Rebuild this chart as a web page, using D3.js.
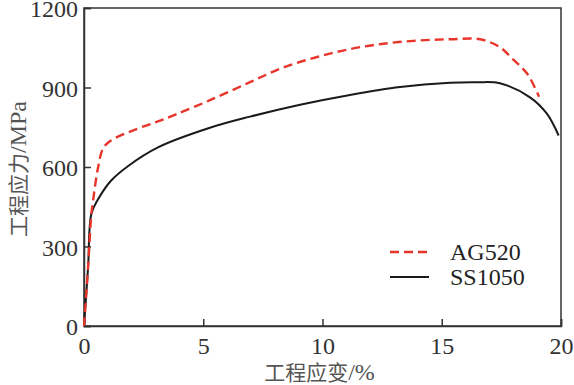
<!DOCTYPE html>
<html>
<head>
<meta charset="utf-8">
<script src="https://cdn.jsdelivr.net/npm/d3@7"></script>
<style>
  body { margin: 0; background: #fff; }
  .tick text { font-family: "Liberation Serif", serif; font-size: 24px; fill: #333; }
  .lbl { font-family: "Noto Sans CJK SC", sans-serif; font-size: 21px; fill: #555; }
  .lbl tspan.lat { font-family: "Liberation Serif", serif; font-size: 24px; }
  .leg { font-family: "Liberation Serif", serif; font-size: 24px; fill: #222; }
</style>
</head>
<body>
<svg id="chart" width="574" height="385"></svg>
<script>
// strain (%) / stress (MPa)
const agStrain = [0, 0.17, 0.31, 0.38, 0.59, 0.8, 1.13, 2.26, 3.1, 3.9, 5.28, 6.96, 8.34, 9.77, 11.15, 12.54, 13.96, 15.35, 16.6, 17.44, 18.0, 18.6, 19.08]
const agStress = [0, 220, 424, 473, 598, 670, 700, 745, 772, 800, 852, 920, 975, 1015, 1045, 1065, 1077, 1082, 1082, 1052, 1005, 950, 865]
const ssStrain = [0, 0.17, 0.31, 0.59, 1.13, 1.84, 3.1, 5.28, 6.96, 9.06, 11.15, 13.25, 15.35, 16.5, 17.44, 18.7, 19.4, 19.9]
const ssStress = [0, 220, 424, 478, 548, 603, 674, 748, 790, 835, 872, 902, 918, 920, 916, 863, 802, 719]

const xTicks = [0, 5, 10, 15, 20]
const yTicks = [0, 300, 600, 900, 1200]
const seriesNames = ["AG520", "SS1050"]

const M = { left: 84, right: 13, top: 8, bottom: 59 }
const W = 574, H = 385
const svg = d3.select("#chart")

const x = d3.scaleLinear().domain([0, 20]).range([M.left, W - M.right])
const y = d3.scaleLinear().domain([0, 1200]).range([H - M.bottom, M.top])

const axisColor = "#333"

// frame
svg.append("rect")
  .attr("x", x(0)).attr("y", y(1200))
  .attr("width", x(20) - x(0)).attr("height", y(0) - y(1200))
  .attr("fill", "none").attr("stroke", axisColor).attr("stroke-width", 1.5)

const gx = svg.append("g")
  .attr("transform", `translate(0,${y(0)})`)
  .call(d3.axisBottom(x).tickValues(xTicks).tickFormat(d3.format("d")).tickSize(-7).tickPadding(11))
const gy = svg.append("g")
  .attr("transform", `translate(${x(0)},0)`)
  .call(d3.axisLeft(y).tickValues(yTicks).tickFormat(d3.format("d")).tickSize(-7).tickPadding(6))

;[gx, gy].forEach(g => {
  g.attr("font-family", null).attr("font-size", null)
  g.select(".domain").attr("stroke", axisColor).attr("stroke-width", 1.5)
  g.selectAll(".tick line").attr("stroke", axisColor).attr("stroke-width", 1.5)
})
gy.selectAll(".tick text").attr("dy", "0.36em")

const line = d3.line().x(d => x(d[0])).y(d => y(d[1])).curve(d3.curveCatmullRom.alpha(0.5))

const agData = agStrain.map((s, i) => [s, agStress[i]])
const ssData = ssStrain.map((s, i) => [s, ssStress[i]])

svg.append("path").datum(ssData)
  .attr("d", line).attr("fill", "none")
  .attr("stroke", "#1a1a1a").attr("stroke-width", 2)

svg.append("path").datum(agData)
  .attr("d", line).attr("fill", "none")
  .attr("stroke", "#e8352b").attr("stroke-width", 2.4)
  .attr("stroke-dasharray", "9,5")

// legend
const leg = svg.append("g").attr("transform", "translate(390,252)")
const legStyle = [
  { color: "#e8352b", dash: "9,5", w: 2.4 },
  { color: "#1a1a1a", dash: null, w: 2 }
]
seriesNames.forEach((name, i) => {
  const row = leg.append("g").attr("transform", `translate(0,${i * 25})`)
  row.append("line").attr("x1", 0).attr("x2", 39).attr("y1", 0).attr("y2", 0)
    .attr("stroke", legStyle[i].color).attr("stroke-width", legStyle[i].w)
    .attr("stroke-dasharray", legStyle[i].dash)
  row.append("text").attr("class", "leg").attr("x", 60).attr("y", 8).text(name)
})

// axis titles
const xt = svg.append("text").attr("class", "lbl")
  .attr("x", x(10) - 3).attr("y", 380).attr("text-anchor", "middle")
xt.append("tspan").text("工程应变")
xt.append("tspan").attr("class", "lat").text("/%")

const yt = svg.append("text").attr("class", "lbl")
  .attr("transform", `translate(26,${y(600) + 2}) rotate(-90)`)
  .attr("text-anchor", "middle")
yt.append("tspan").text("工程应力")
yt.append("tspan").attr("class", "lat").text("/MPa")
</script>
</body>
</html>
